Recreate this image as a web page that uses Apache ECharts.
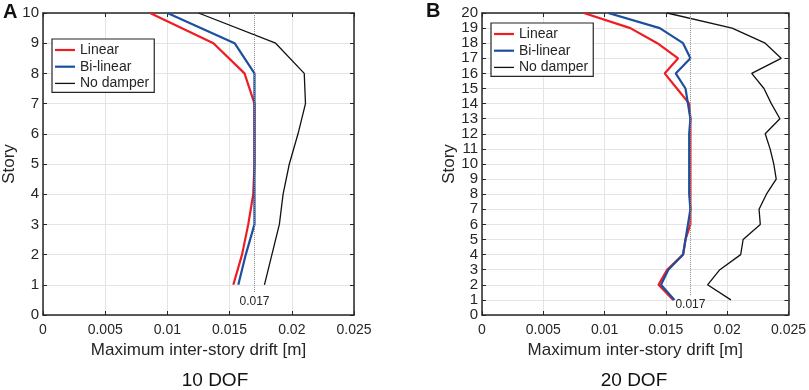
<!DOCTYPE html>
<html>
<head>
<meta charset="utf-8">
<script src="https://cdn.jsdelivr.net/npm/echarts@6/dist/echarts.min.js"></script>
<style>
    html, body { margin: 0; padding: 0; background: #fff; }
    #chart { width: 809px; height: 390px; }
</style>
</head>
<body>
<div id="chart"></div>
<script>
/* 最大层间位移 - 10 / 20 自由度 */

var storiesA = [1, 2, 3, 4, 5, 6, 7, 8, 9, 10];
var linearA = [0.0153, 0.0160, 0.0165, 0.0169, 0.0170, 0.0170, 0.0170, 0.0162, 0.0137, 0.0086];
var bilinearA = [0.0157, 0.0163, 0.0170, 0.0170, 0.0170, 0.0170, 0.0170, 0.0170, 0.0154, 0.0100];
var noDamperA = [0.0178, 0.0184, 0.0190, 0.0193, 0.0198, 0.0205, 0.0211, 0.0210, 0.0187, 0.0125];

var storiesB = [1, 2, 3, 4, 5, 6, 7, 8, 9, 10, 11, 12, 13, 14, 15, 16, 17, 18, 19, 20];
var linearB = [0.0156, 0.0144, 0.0151, 0.0164, 0.0166, 0.0170, 0.0170, 0.0170, 0.0170, 0.0170,
               0.0170, 0.0170, 0.0170, 0.0169, 0.0159, 0.0149, 0.0160, 0.0143, 0.0121, 0.0083];
var bilinearB = [0.0157, 0.0146, 0.0152, 0.0164, 0.0166, 0.0168, 0.0170, 0.0169, 0.0169, 0.0169,
                 0.0169, 0.0169, 0.0170, 0.0168, 0.0166, 0.0158, 0.0170, 0.0164, 0.0145, 0.0103];
var noDamperB = [0.0203, 0.0184, 0.0194, 0.0211, 0.0213, 0.0227, 0.0226, 0.0232, 0.0240, 0.0238,
                 0.0235, 0.0231, 0.0243, 0.0236, 0.0230, 0.0220, 0.0244, 0.0231, 0.0204, 0.0151];

var seriesNames = ['Linear', 'Bi-linear', 'No damper'];
var xTicks = [0, 0.005, 0.01, 0.015, 0.02, 0.025];
var refDrift = 0.017;
var refStartA = 0.76;   // 虚线下端
var refStartB = 1.32;
var panelTitles = ['10 DOF', '20 DOF'];
var panelLetters = ['A', 'B'];

var FONT = 'Liberation Sans';
var DARK = '#262626';
var RED = '#ee1d23', BLUE = '#1d4f9f', BLACK = '#111';

function pairs(xs, ys) {
    return xs.map(function (x, i) { return [x, ys[i]]; });
}

function boxLine() {
    return { show: true, onZero: false, lineStyle: { color: DARK, width: 1.5 } };
}

function ticks() {
    return { show: true, inside: true, length: 4, lineStyle: { color: DARK } };
}

function bottomAxis(gi) {
    return {
        type: 'value', gridIndex: gi, position: 'bottom',
        min: xTicks[0], max: xTicks[xTicks.length - 1], interval: xTicks[1] - xTicks[0],
        name: 'Maximum inter-story drift [m]', nameLocation: 'middle', nameGap: 25,
        nameTextStyle: { fontFamily: FONT, fontSize: 17, color: DARK },
        axisLine: boxLine(),
        axisTick: ticks(),
        axisLabel: {
            fontFamily: FONT, fontSize: 14, color: DARK, margin: 8,
            formatter: function (v) { return String(+v.toFixed(3)); }
        },
        splitLine: { show: true, lineStyle: { color: '#e4e4e4', width: 1 } }
    };
}

function topAxis(gi) {
    return {
        type: 'value', gridIndex: gi, position: 'top',
        min: xTicks[0], max: xTicks[xTicks.length - 1], interval: xTicks[1] - xTicks[0],
        axisLine: boxLine(),
        axisTick: ticks(),
        axisLabel: { show: false },
        splitLine: { show: false }
    };
}

function leftAxis(gi, max, gap) {
    return {
        type: 'value', gridIndex: gi, position: 'left',
        min: 0, max: max, interval: 1,
        name: 'Story', nameLocation: 'middle', nameGap: gap,
        nameTextStyle: { fontFamily: FONT, fontSize: 17, color: DARK },
        axisLine: boxLine(),
        axisTick: ticks(),
        axisLabel: { fontFamily: FONT, fontSize: 15, color: DARK, margin: 4 },
        splitLine: { show: true, lineStyle: { color: '#e4e4e4', width: 1 } }
    };
}

function rightAxis(gi, max) {
    return {
        type: 'value', gridIndex: gi, position: 'right',
        min: 0, max: max, interval: 1,
        axisLine: boxLine(),
        axisTick: ticks(),
        axisLabel: { show: false },
        splitLine: { show: false }
    };
}

function makeSeries(idx, stories, lin, bil, nod, refStart, top) {
    var xi = idx * 2, yi = idx * 2;
    return [
        {
            name: seriesNames[0], type: 'line', xAxisIndex: xi, yAxisIndex: yi,
            symbol: 'none', data: pairs(lin, stories),
            lineStyle: { color: RED, width: 2.2 }, itemStyle: { color: RED }
        },
        {
            name: seriesNames[1], type: 'line', xAxisIndex: xi, yAxisIndex: yi,
            symbol: 'none', data: pairs(bil, stories),
            lineStyle: { color: BLUE, width: 2.2 }, itemStyle: { color: BLUE }
        },
        {
            name: seriesNames[2], type: 'line', xAxisIndex: xi, yAxisIndex: yi,
            symbol: 'none', data: pairs(nod, stories),
            lineStyle: { color: BLACK, width: 1.3 }, itemStyle: { color: BLACK },
            markLine: {
                silent: true, symbol: 'none', animation: false,
                lineStyle: { color: '#888', type: 'dotted', width: 1 },
                label: {
                    show: true, position: 'start', distance: 4,
                    fontFamily: FONT, fontSize: 12, color: DARK,
                    formatter: String(refDrift)
                },
                data: [[{ coord: [refDrift, refStart] }, { coord: [refDrift, top] }]]
            }
        }
    ];
}

function makeLegend(left, top) {
    return {
        orient: 'vertical', left: left, top: top,
        data: [
            { name: seriesNames[0], icon: 'path://M0,0H20V2.2H0Z', itemStyle: { color: RED } },
            { name: seriesNames[1], icon: 'path://M0,0H20V2.2H0Z', itemStyle: { color: BLUE } },
            { name: seriesNames[2], icon: 'path://M0,0H20V1.3H0Z', itemStyle: { color: BLACK } }
        ],
        backgroundColor: '#fff',
        borderColor: DARK, borderWidth: 1.2, borderRadius: 0,
        padding: [4, 5, 2, 3],
        itemWidth: 20, itemHeight: 14, itemGap: 2.7,
        textStyle: { fontFamily: FONT, fontSize: 14, color: DARK, lineHeight: 14 },
        selectedMode: false
    };
}

var chart = echarts.init(document.getElementById('chart'));

var option = {
    animation: false,
    backgroundColor: '#fff',
    grid: [
        { left: 43, right: 455, top: 13, bottom: 75 },
        { left: 482, right: 17, top: 13, bottom: 75 }
    ],
    xAxis: [bottomAxis(0), topAxis(0), bottomAxis(1), topAxis(1)],
    yAxis: [leftAxis(0, 10, 25), rightAxis(0, 10), leftAxis(1, 20, 24), rightAxis(1, 20)],
    legend: [makeLegend(52, 39), makeLegend(491, 23)],
    series: makeSeries(0, storiesA, linearA, bilinearA, noDamperA, refStartA, 10)
        .concat(makeSeries(1, storiesB, linearB, bilinearB, noDamperB, refStartB, 20)),
    graphic: [
        { type: 'text', left: 3, top: 2, style: { text: panelLetters[0], font: 'bold 20px ' + FONT, fill: '#111' } },
        { type: 'text', left: 426, top: 1, style: { text: panelLetters[1], font: 'bold 20px ' + FONT, fill: '#111' } },
        { type: 'text', x: 215, y: 381, style: { text: panelTitles[0], font: '19px ' + FONT, fill: '#111', align: 'center', verticalAlign: 'middle' } },
        { type: 'text', x: 634, y: 381, style: { text: panelTitles[1], font: '19px ' + FONT, fill: '#111', align: 'center', verticalAlign: 'middle' } }
    ]
};

chart.setOption(option);
</script>
</body>
</html>
